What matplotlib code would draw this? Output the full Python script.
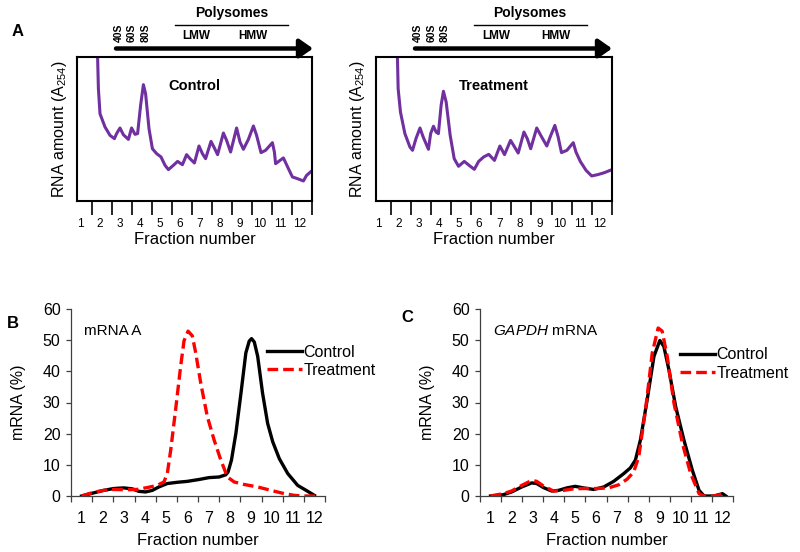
import matplotlib
matplotlib.use('Agg')
import matplotlib.pyplot as plt
from matplotlib.lines import Line2D
import numpy as np

plt.rcParams['font.family'] = ['Liberation Sans', 'DejaVu Sans']
plt.rcParams['mathtext.fontset'] = 'custom'
plt.rcParams['mathtext.rm'] = 'Liberation Sans'
plt.rcParams['mathtext.it'] = 'Liberation Sans:italic'

# --- panel A: absorbance profiles (arbitrary units) ---
ctrl_prof_x = [1.87, 1.88, 1.92, 2.0, 2.25, 2.5, 2.72, 2.83, 3.0, 3.17, 3.42, 3.58, 3.75, 3.88,
               4.03, 4.17, 4.28, 4.45, 4.62, 4.83, 5.05, 5.25, 5.42, 5.67, 5.88, 6.12, 6.33,
               6.5, 6.72, 6.95, 7.12, 7.28, 7.55, 7.72, 7.88, 8.17, 8.33, 8.53, 8.83, 9.0,
               9.17, 9.42, 9.67, 9.83, 10.05, 10.28, 10.62, 10.72, 10.78, 11.0, 11.17, 11.42,
               11.62, 11.88, 12.17, 12.33, 12.62]
ctrl_prof_y = [112, 100, 78, 60.6, 51.4, 45.6, 43.3, 46.8, 50.7, 46, 42.8, 50.7, 46.3, 46.8,
               66.4, 80.8, 74.5, 50.2, 36.3, 32.9, 30.6, 24.8, 21.8, 24.8, 27.5, 25.2, 32.2,
               29.4, 26.4, 38.2, 32.9, 29.4, 41.4, 36.8, 32.2, 47.2, 42.1, 34, 50.7, 41,
               35.9, 42.8, 52.1, 45.6, 33.6, 35.2, 40.5, 34, 25.9, 28.2, 29.9, 22.5,
               16.7, 15.5, 13.9, 17.8, 21.3]

trt_prof_x = [1.93, 1.94, 1.975, 2.09, 2.31, 2.56, 2.69, 2.86, 3.06, 3.22, 3.48, 3.59, 3.73,
              3.86, 3.975, 4.11, 4.225, 4.36, 4.56, 4.76, 4.975, 5.26, 5.56, 5.76, 5.975,
              6.225, 6.475, 6.76, 7.03, 7.26, 7.56, 7.76, 7.94, 8.225, 8.39, 8.56, 8.86,
              9.06, 9.36, 9.56, 9.76, 9.925, 10.09, 10.36, 10.675, 10.81, 11.025, 11.31,
              11.59, 11.89, 12.225, 12.64]
trt_prof_y = [112, 100, 78, 61.8, 46.8, 37.5, 35.2, 43.3, 50.7, 44.4, 35.9, 46.8, 51.9,
              47.9, 46.8, 66.4, 76.2, 68.8, 45.6, 29.4, 24.1, 27.5, 24.1, 22, 27.5,
              30.6, 32.4, 28.2, 38.2, 32.2, 42.1, 37.5, 33.3, 47.9, 43.3, 36.3, 50.7,
              45.6, 38.2, 45.6, 52.5, 44.4, 33.6, 35.2, 40.5, 34, 27.5, 21.3,
              17.4, 18.3, 19.7, 22]

fractions = list(range(1, 13))

# --- panel B: mRNA A distribution (%) ---
b_ctrl_x = [1.0, 1.57, 2.04, 2.52, 2.99, 3.39, 3.7, 4.02, 4.34, 4.65, 5.05, 5.52, 6.0, 6.55,
            7.02, 7.5, 7.81, 7.92, 8.08, 8.29, 8.53, 8.76, 8.92, 9.03, 9.16, 9.32, 9.55,
            9.79, 10.03, 10.34, 10.74, 11.21, 11.61, 12.0]
b_ctrl_y = [0, 1.0, 1.8, 2.4, 2.6, 2.3, 1.5, 1.3, 1.8, 2.9, 4.0, 4.4, 4.7, 5.3,
            5.9, 6.1, 6.8, 7.7, 11.5, 20.1, 33, 45.9, 49.7, 50.5, 49.4, 44.8, 33,
            23.3, 17.4, 12.0, 7.2, 3.4, 1.8, 0.2]
b_trt_x = [1.0, 1.57, 2.04, 2.52, 3.07, 3.62, 4.1, 4.57, 4.89, 5.05, 5.21, 5.44, 5.68, 5.84,
           6.03, 6.23, 6.39, 6.63, 6.94, 7.26, 7.58, 7.89, 8.21, 8.68, 9.32, 9.95, 10.58,
           11.06, 11.53, 12.08]
b_trt_y = [0, 1.2, 1.8, 2.1, 2.0, 2.1, 2.7, 3.4, 4.5, 7.2, 14.7, 27.6, 41.6, 49.8,
           52.9, 51.4, 46, 36.2, 25.5, 18, 11.5, 6.1, 4.5, 3.7, 2.9, 1.8, 0.75,
           0.2, 0, 0]

# --- panel C: GAPDH mRNA distribution (%) ---
c_ctrl_x = [1.0, 1.6, 2.0, 2.48, 2.95, 3.19, 3.51, 3.9, 4.22, 4.62, 5.02, 5.41, 5.89, 6.37,
            6.84, 7.32, 7.63, 7.87, 8.11, 8.43, 8.75, 9.03, 9.22, 9.46, 9.78, 10.17,
            10.57, 10.89, 11.13, 11.6, 12.0, 12.16]
c_ctrl_y = [0, 0.4, 1.3, 2.9, 4.2, 4.0, 2.7, 1.6, 1.8, 2.6, 3.1, 2.6, 2.1, 2.9,
            4.7, 7.2, 9.0, 11.5, 18, 30.9, 44.8, 49.9, 48, 40.5, 28.7, 18,
            8.3, 1.8, 0, 0, 0.75, 0]
c_trt_x = [1.0, 1.6, 2.0, 2.48, 2.95, 3.19, 3.51, 3.98, 4.46, 4.94, 5.41, 6.05, 6.6, 7.08,
           7.48, 7.79, 8.03, 8.35, 8.67, 8.95, 9.14, 9.38, 9.7, 10.1, 10.49, 10.89,
           11.13, 11.6, 12.0, 12.16]
c_trt_y = [0, 0.75, 1.6, 3.4, 5.0, 4.7, 3.2, 1.6, 1.8, 2.3, 2.4, 2.4, 2.6, 3.6,
           5.4, 7.7, 12.6, 27.6, 45.9, 53.9, 52.9, 44.8, 29.8, 16.9, 7.2, 0.75,
           0, 0, 0.6, 0]

W, H = 800, 552
fig = plt.figure(figsize=(8, 5.52), dpi=100)


def px(x, y):
    return x / W, 1 - y / H


def box(l, t, r, b):
    return [l / W, 1 - b / H, (r - l) / W, (b - t) / H]


purple = '#7030A0'


def profile_axes(rect, xs, ys, title, ann):
    ax = fig.add_axes(rect)
    ax.plot(xs, ys, color=purple, lw=2.2, solid_joinstyle='round', solid_capstyle='round')
    ax.set_xlim(0.85, 12.6)
    ax.set_ylim(0, 100)
    ax.set_yticks([])
    ax.set_xticks(fractions)
    ax.set_xticklabels([str(f) for f in fractions], fontsize=8.5)
    ax.set_xticks([f + 0.6 for f in fractions], minor=True)
    ax.tick_params(axis='x', which='major', length=0, pad=12)
    ax.tick_params(axis='x', which='minor', direction='out', length=10, width=1.2)
    for s in ax.spines.values():
        s.set_linewidth(1.5)
    ax.set_xlabel('Fraction number', fontsize=12, labelpad=2)
    ax.set_ylabel('RNA amount (A$_{254}$)', fontsize=11.5, labelpad=6)
    ax.text(0.5, 0.8, title, transform=ax.transAxes, ha='center', va='center',
            fontsize=10.5, fontweight='bold')
    # header above the panel
    a0, a1, sub, pol, ln, lmw, hmw = ann
    fig.add_artist(matplotlib.patches.FancyArrowPatch(
        px(a0, 48.5), px(a1, 48.5), transform=fig.transFigure,
        arrowstyle='-|>,head_length=0.5,head_width=0.35', mutation_scale=16,
        lw=3.2, color='black', shrinkA=0, shrinkB=0))
    for lab, xx in zip(['40S', '60S', '80S'], sub):
        fig.text(*px(xx, 42), lab, rotation=90, ha='center', va='bottom',
                 fontsize=7.5, fontweight='bold')
    fig.text(*px(pol, 13), 'Polysomes', ha='center', va='center', fontsize=10, fontweight='bold')
    fig.add_artist(Line2D([ln[0] / W, ln[1] / W], [1 - 25 / H, 1 - 25 / H],
                          transform=fig.transFigure, color='black', lw=1))
    fig.text(*px(lmw, 36), 'LMW', ha='center', va='center', fontsize=8.5, fontweight='bold')
    fig.text(*px(hmw, 36), 'HMW', ha='center', va='center', fontsize=8.5, fontweight='bold')
    return ax


profile_axes(box(77, 57, 312, 201), ctrl_prof_x, ctrl_prof_y, 'Control',
             (116, 313, (119, 132, 146), 232, (175, 288), 196, 253))
profile_axes(box(375.5, 57, 612, 201), trt_prof_x, trt_prof_y, 'Treatment',
             (415, 612, (418, 432, 445), 530, (474, 587), 496, 556))
fig.text(*px(18, 32), 'A', ha='center', va='center', fontsize=12, fontweight='bold')


def dist_axes(rect, cx, cy, tx, ty, label, leg_anchor):
    ax = fig.add_axes(rect)
    ax.plot(cx, cy, color='black', lw=2.4, label='Control', solid_joinstyle='round')
    ax.plot(tx, ty, color='#FF0000', lw=2.4, ls=(0, (3.2, 1.5)), label='Treatment')
    ax.set_xlim(0.5, 12.5)
    ax.set_ylim(0, 60)
    ax.set_yticks(range(0, 61, 10))
    ax.set_xticks(fractions)
    ax.set_xticks([f + 0.5 for f in range(0, 13)], minor=True)
    ax.tick_params(axis='x', which='major', length=0, pad=11, labelsize=11.5)
    ax.tick_params(axis='x', which='minor', direction='out', length=4.5, width=0.9, color='#404040')
    ax.tick_params(axis='y', direction='out', length=3.5, width=0.9, color='#404040',
                   labelsize=11.5, pad=4)
    ax.spines['top'].set_visible(False)
    ax.spines['right'].set_visible(False)
    for s in ('left', 'bottom'):
        ax.spines[s].set_linewidth(0.9)
        ax.spines[s].set_color('#404040')
    ax.set_xlabel('Fraction number', fontsize=12, labelpad=5)
    ax.set_ylabel('mRNA (%)', fontsize=11.5, labelpad=12)
    ax.text(0.05, 0.88, label, transform=ax.transAxes, ha='left', va='center', fontsize=11)
    ax.legend(loc='upper left', bbox_to_anchor=leg_anchor, frameon=False, fontsize=11.5,
              handlelength=2.2, handletextpad=0.1, borderpad=0, borderaxespad=0,
              labelspacing=0.2)
    return ax


dist_axes(box(71, 309, 325, 496), b_ctrl_x, b_ctrl_y, b_trt_x, b_trt_y,
          'mRNA A', (0.77, 0.81))
dist_axes(box(480, 309, 733, 496), c_ctrl_x, c_ctrl_y, c_trt_x, c_trt_y,
          '$\\mathit{GAPDH}$ mRNA', (0.79, 0.795))
fig.text(*px(13, 323), 'B', ha='center', va='center', fontsize=12, fontweight='bold')
fig.text(*px(407, 317), 'C', ha='center', va='center', fontsize=12, fontweight='bold')

fig.savefig('out.png', dpi=100)
